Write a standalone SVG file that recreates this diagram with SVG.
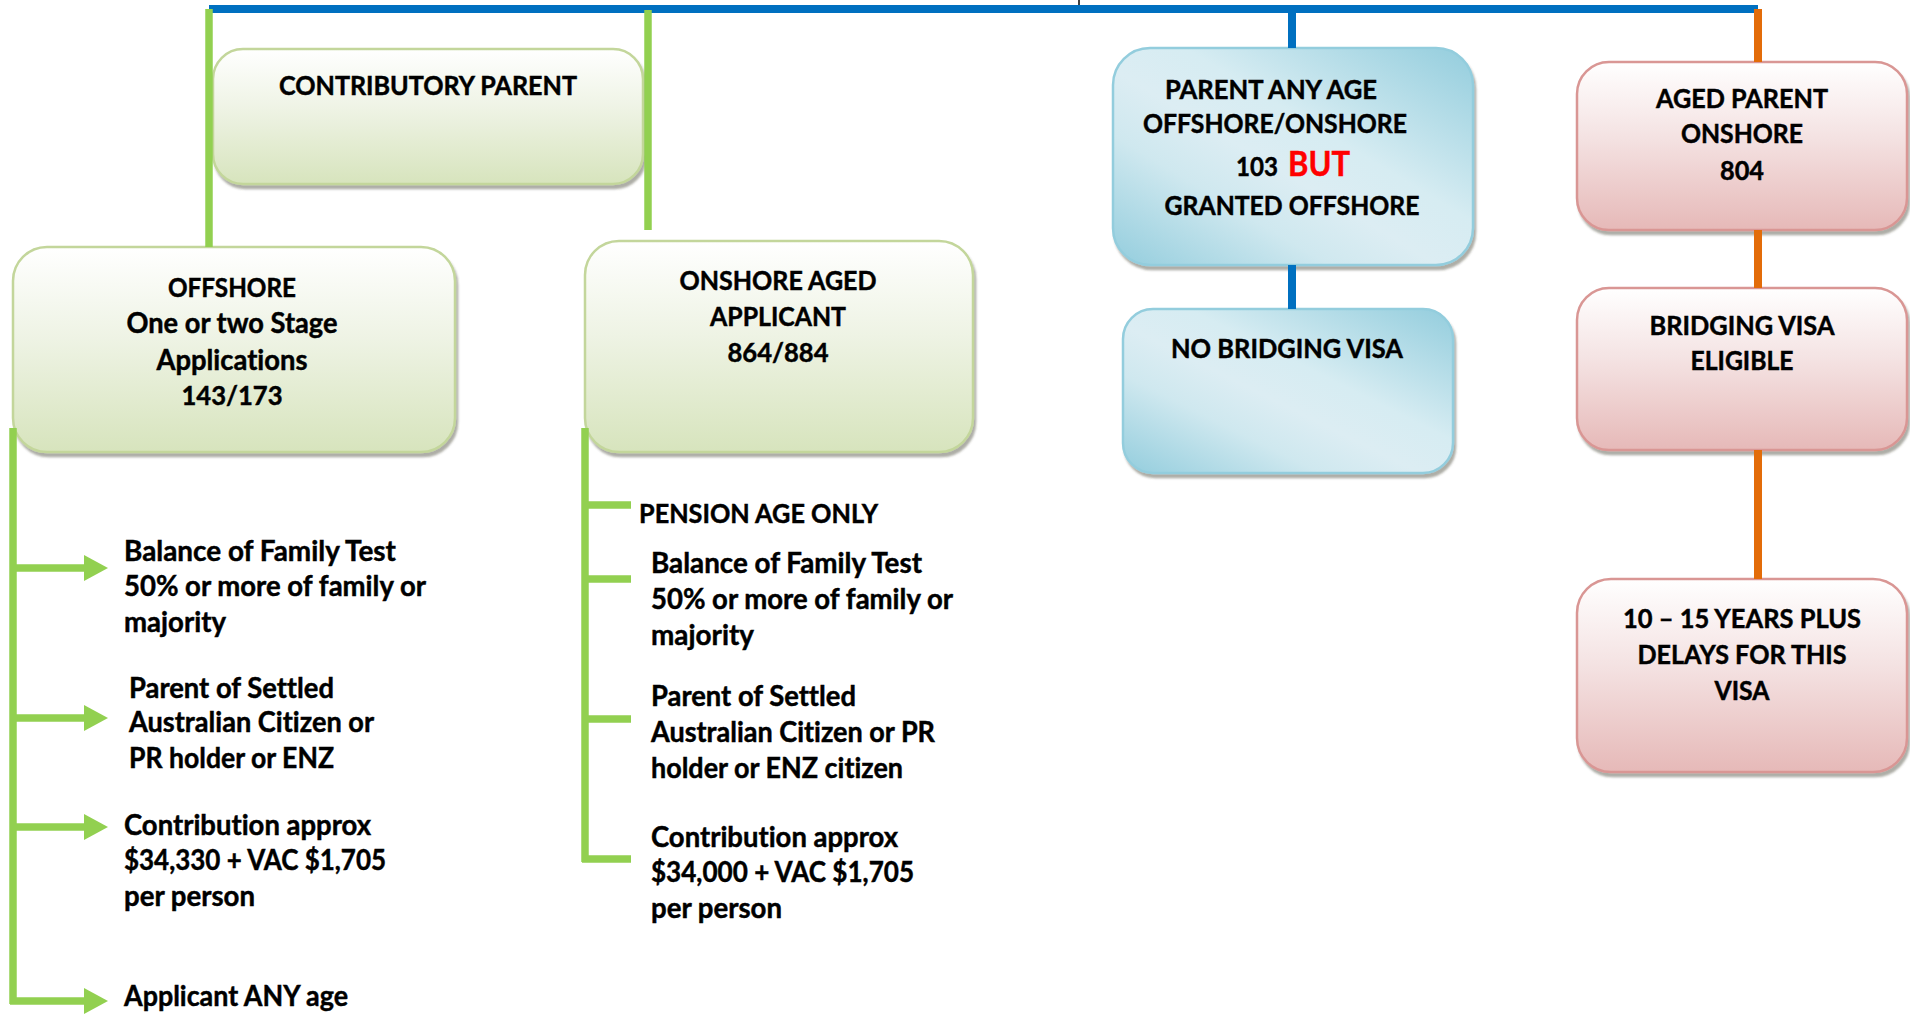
<svg xmlns="http://www.w3.org/2000/svg" width="1910" height="1017" viewBox="0 0 1910 1017">
<style>
text{font-family:Lato,"Open Sans","Liberation Sans",sans-serif;font-weight:700;font-size:28px;fill:#000;stroke:#000;stroke-width:0.45;font-variant-ligatures:none}
text.u{font-size:26px}
.c{text-anchor:middle}
.g{fill:url(#gg);stroke:#c3d69b;stroke-width:2.5}
.b{fill:url(#bg);stroke:#93cddd;stroke-width:2.5}
.r{fill:url(#rg);stroke:#d99694;stroke-width:2.5}
.gl{stroke:#92d050;stroke-width:7.5;fill:none}
.bl{stroke:#0070c0;stroke-width:8;fill:none}
.ol{stroke:#e36c09;stroke-width:8;fill:none}
text.red{fill:#ff0000;stroke:#ff0000;font-size:34px}
</style>
<defs>
<linearGradient id="gg" x1="0" y1="0" x2="0" y2="1"><stop offset="0" stop-color="#ffffff"/><stop offset="0.45" stop-color="#eef3e4"/><stop offset="1" stop-color="#d7e4bd"/></linearGradient>
<linearGradient id="rg" x1="0" y1="0" x2="0" y2="1"><stop offset="0" stop-color="#ffffff"/><stop offset="0.45" stop-color="#f4e2e2"/><stop offset="1" stop-color="#e6b9b8"/></linearGradient>
<linearGradient id="bg" x1="1" y1="0" x2="0" y2="1"><stop offset="0" stop-color="#93cddd"/><stop offset="0.4" stop-color="#d6ecf2"/><stop offset="0.55" stop-color="#dcedf3"/><stop offset="0.7" stop-color="#cfe8ef"/><stop offset="1" stop-color="#93cddd"/></linearGradient>
<filter id="sh" x="-5%" y="-5%" width="115%" height="120%"><feDropShadow dx="2" dy="4" stdDeviation="1.2" flood-color="#4a4a3a" flood-opacity="0.45"/></filter>
<marker id="ar" markerUnits="userSpaceOnUse" markerWidth="24" markerHeight="26" refX="0" refY="13" orient="auto"><path d="M0,0 L24,13 L0,26 Z" fill="#92d050"/></marker>
</defs>

<g id="n-contributory"><rect class="g" x="213" y="49" width="430" height="135" rx="30" filter="url(#sh)"/><text class="c u" x="428" y="95" textLength="298" lengthAdjust="spacingAndGlyphs">CONTRIBUTORY PARENT</text></g>
<g id="n-offshore"><rect class="g" x="13" y="247" width="442" height="205" rx="34" filter="url(#sh)"/><text class="c u" x="232" y="297" textLength="128" lengthAdjust="spacingAndGlyphs">OFFSHORE</text><text class="c" x="232" y="333" textLength="211" lengthAdjust="spacingAndGlyphs">One or two Stage</text><text class="c" x="232" y="370" textLength="151" lengthAdjust="spacingAndGlyphs">Applications</text><text class="c u" x="232" y="405" textLength="101" lengthAdjust="spacingAndGlyphs">143/173</text></g>
<g id="n-onshore"><rect class="g" x="585" y="241" width="388" height="211" rx="34" filter="url(#sh)"/><text class="c u" x="778" y="290" textLength="197" lengthAdjust="spacingAndGlyphs">ONSHORE AGED</text><text class="c u" x="778" y="326" textLength="136" lengthAdjust="spacingAndGlyphs">APPLICANT</text><text class="c u" x="778" y="362" textLength="101" lengthAdjust="spacingAndGlyphs">864/884</text></g>
<g id="n-anyage"><rect class="b" x="1113" y="48" width="360" height="217" rx="37" filter="url(#sh)"/><text class="c u" x="1271" y="99" textLength="212" lengthAdjust="spacingAndGlyphs">PARENT ANY AGE</text><text class="c u" x="1275" y="133" textLength="264" lengthAdjust="spacingAndGlyphs">OFFSHORE/ONSHORE</text><text class="u" x="1236" y="176" textLength="42" lengthAdjust="spacingAndGlyphs">103</text><text class="red" x="1288" y="176" textLength="62" lengthAdjust="spacingAndGlyphs">BUT</text><text class="c u" x="1292" y="215" textLength="255" lengthAdjust="spacingAndGlyphs">GRANTED OFFSHORE</text></g>
<g id="n-nobridging"><rect class="b" x="1123" y="309" width="330" height="164" rx="30" filter="url(#sh)"/><text class="c u" x="1287" y="358" textLength="232" lengthAdjust="spacingAndGlyphs">NO BRIDGING VISA</text></g>
<g id="n-agedparent"><rect class="r" x="1577" y="62" width="330" height="168" rx="32" filter="url(#sh)"/><text class="c u" x="1742" y="108" textLength="172" lengthAdjust="spacingAndGlyphs">AGED PARENT</text><text class="c u" x="1742" y="143" textLength="122" lengthAdjust="spacingAndGlyphs">ONSHORE</text><text class="c u" x="1742" y="180" textLength="44" lengthAdjust="spacingAndGlyphs">804</text></g>
<g id="n-bridging"><rect class="r" x="1577" y="288" width="330" height="162" rx="32" filter="url(#sh)"/><text class="c u" x="1742" y="335" textLength="185" lengthAdjust="spacingAndGlyphs">BRIDGING VISA</text><text class="c u" x="1742" y="370" textLength="103" lengthAdjust="spacingAndGlyphs">ELIGIBLE</text></g>
<g id="n-delays"><rect class="r" x="1577" y="579" width="330" height="193" rx="34" filter="url(#sh)"/><text class="c u" x="1742" y="628" textLength="238" lengthAdjust="spacingAndGlyphs">10 – 15 YEARS PLUS</text><text class="c u" x="1742" y="664" textLength="209" lengthAdjust="spacingAndGlyphs">DELAYS FOR THIS</text><text class="c u" x="1742" y="700" textLength="55" lengthAdjust="spacingAndGlyphs">VISA</text></g>

<g id="n-off-items">
<text x="124" y="561" textLength="272" lengthAdjust="spacingAndGlyphs">Balance of Family Test</text><text x="124" y="596" textLength="302" lengthAdjust="spacingAndGlyphs">50% or more of family or</text><text x="124" y="632" textLength="102" lengthAdjust="spacingAndGlyphs">majority</text>
<text x="129" y="698" textLength="205" lengthAdjust="spacingAndGlyphs">Parent of Settled</text><text x="129" y="732" textLength="245" lengthAdjust="spacingAndGlyphs">Australian Citizen or</text><text x="129" y="768" textLength="205" lengthAdjust="spacingAndGlyphs">PR holder or ENZ</text>
<text x="124" y="835" textLength="247" lengthAdjust="spacingAndGlyphs">Contribution approx</text><text x="124" y="870" textLength="262" lengthAdjust="spacingAndGlyphs">$34,330 + VAC $1,705</text><text x="124" y="906" textLength="131" lengthAdjust="spacingAndGlyphs">per person</text>
<text x="124" y="1006" textLength="224" lengthAdjust="spacingAndGlyphs">Applicant ANY age</text>
</g>
<g id="n-on-items">
<text class="u" x="639" y="523" textLength="239" lengthAdjust="spacingAndGlyphs">PENSION AGE ONLY</text>
<text x="651" y="573" textLength="271" lengthAdjust="spacingAndGlyphs">Balance of Family Test</text><text x="651" y="609" textLength="302" lengthAdjust="spacingAndGlyphs">50% or more of family or</text><text x="651" y="645" textLength="103" lengthAdjust="spacingAndGlyphs">majority</text>
<text x="651" y="706" textLength="205" lengthAdjust="spacingAndGlyphs">Parent of Settled</text><text x="651" y="742" textLength="284" lengthAdjust="spacingAndGlyphs">Australian Citizen or PR</text><text x="651" y="778" textLength="252" lengthAdjust="spacingAndGlyphs">holder or ENZ citizen</text>
<text x="651" y="847" textLength="247" lengthAdjust="spacingAndGlyphs">Contribution approx</text><text x="651" y="882" textLength="263" lengthAdjust="spacingAndGlyphs">$34,000 + VAC $1,705</text><text x="651" y="918" textLength="131" lengthAdjust="spacingAndGlyphs">per person</text>
</g>

<g id="connectors">
<line x1="1079" y1="0" x2="1079" y2="6" stroke="#000" stroke-width="1.5"/>
<line class="bl" x1="209" y1="9" x2="1758" y2="9"/>
<line class="gl" x1="209" y1="9" x2="209" y2="247"/>
<line class="gl" x1="648" y1="10" x2="648" y2="230"/>
<line class="bl" x1="1292" y1="10" x2="1292" y2="48"/>
<line class="bl" x1="1292" y1="265" x2="1292" y2="309"/>
<line class="ol" x1="1758" y1="9" x2="1758" y2="62"/>
<line class="ol" x1="1758" y1="230" x2="1758" y2="288"/>
<line class="ol" x1="1758" y1="450" x2="1758" y2="579"/>
<path class="gl" d="M13,428 V1004"/>
<path class="gl" d="M13,568 H84" marker-end="url(#ar)"/>
<path class="gl" d="M13,718 H84" marker-end="url(#ar)"/>
<path class="gl" d="M13,827 H84" marker-end="url(#ar)"/>
<path class="gl" d="M10,1001 H84" marker-end="url(#ar)"/>
<path class="gl" d="M585,428 V862"/>
<path class="gl" d="M585,505 H631 M585,579 H631 M585,719 H631 M582,859 H631"/>
</g>
</svg>
